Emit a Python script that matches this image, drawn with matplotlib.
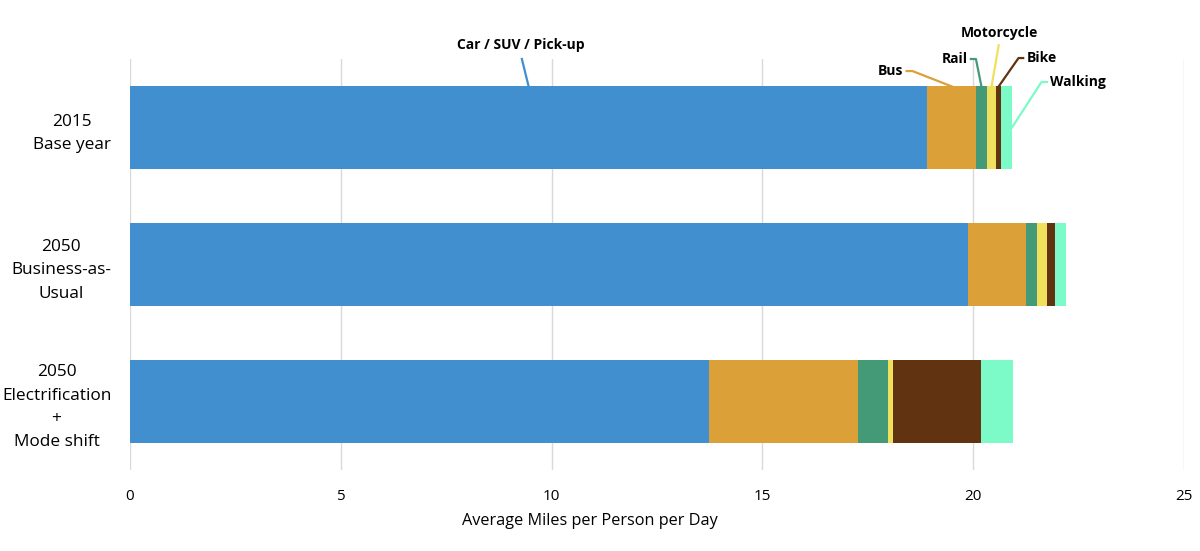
import matplotlib
matplotlib.use("Agg")
import matplotlib.pyplot as plt
import numpy as np

scenarios = ["2015\nBase year", "2050\nBusiness-as-\nUsual", "2050\nElectrification\n+\nMode shift"]
modes = ["Car / SUV / Pick-up", "Bus", "Rail", "Motorcycle", "Bike", "Walking"]
car = [18.91, 19.88, 13.73]
bus = [1.16, 1.38, 3.53]
rail = [0.25, 0.25, 0.71]
motorcycle = [0.23, 0.24, 0.12]
bike = [0.11, 0.20, 2.09]
walking = [0.26, 0.25, 0.77]
colors = ["#418FCE", "#DBA037", "#449A76", "#F0E05E", "#623311", "#7CFAC8"]
xticks = [0, 5, 10, 15, 20, 25]
xlabel = "Average Miles per Person per Day"

series = [car, bus, rail, motorcycle, bike, walking]

plt.rcParams['font.family'] = ['Open Sans', 'DejaVu Sans']
fig = plt.figure(figsize=(12, 5.51), dpi=100)
ax = fig.add_axes([130/1200, 1-470/551, 1054/1200, 411/551])

ypos = np.arange(len(scenarios))
bh = 0.6
left = np.zeros(len(scenarios))
for vals, c in zip(series, colors):
    ax.barh(ypos, vals, left=left, height=bh, color=c, zorder=3)
    left = left + np.array(vals)

ax.set_xlim(0, 25)
ax.set_ylim(2.5, -0.5)
ax.set_xticks(xticks)
ax.set_xticklabels([str(t) for t in xticks], fontsize=11)
ax.set_yticks(ypos)
ax.set_yticklabels(scenarios, fontsize=12.4, ha='right', multialignment='center', linespacing=1.62)
ax.tick_params(axis='y', length=0, pad=13.5)
ax.tick_params(axis='x', length=0, pad=14)
ax.grid(axis='x', color='#D9D9D9', linewidth=1, zorder=0)
for s in ax.spines.values():
    s.set_visible(False)
ax.set_xlabel(xlabel, fontsize=11.7, labelpad=8)
ax.xaxis.set_label_coords((590 - 130) / 1054, -0.105)

# annotations for first bar
b = 0
cum = np.cumsum([s[b] for s in series])
starts = cum - np.array([s[b] for s in series])
mids = (starts + cum) / 2
top = b - bh / 2

lw = 1.6
lab_kw = dict(fontsize=10, fontweight='bold', family=['Open Sans', 'DejaVu Sans'], clip_on=False)

# Car
ax.plot([mids[0], mids[0] - 0.16], [top, -0.5], color=colors[0], lw=lw, clip_on=False, zorder=4)
ax.text(mids[0] - 0.18, -0.60, modes[0], ha='center', va='center', **lab_kw)
# Bus
ax.plot([mids[1], mids[1] - 0.93, mids[1] - 1.07], [top, -0.412, -0.412], color=colors[1], lw=lw, clip_on=False, zorder=4)
ax.text(mids[1] - 1.15, -0.412, modes[1], ha='right', va='center', **lab_kw)
# Rail
ax.plot([mids[2], mids[2] - 0.13, mids[2] - 0.25], [top, -0.5, -0.5], color=colors[2], lw=lw, clip_on=False, zorder=4)
ax.text(mids[2] - 0.33, -0.5, modes[2], ha='right', va='center', **lab_kw)
# Motorcycle
ax.plot([mids[3], mids[3] + 0.17], [top, -0.60], color=colors[3], lw=lw, clip_on=False, zorder=4)
ax.text(mids[3] + 0.18, -0.69, modes[3], ha='center', va='center', **lab_kw)
# Bike
ax.plot([mids[4], mids[4] + 0.47, mids[4] + 0.58], [top, -0.507, -0.507], color=colors[4], lw=lw, clip_on=False, zorder=4)
ax.text(mids[4] + 0.67, -0.507, modes[4], ha='left', va='center', **lab_kw)
# Walking
ax.plot([cum[5], cum[5] + 0.70, cum[5] + 0.83], [b, -0.332, -0.332], color=colors[5], lw=lw, clip_on=False, zorder=4)
ax.text(cum[5] + 0.91, -0.332, modes[5], ha='left', va='center', **lab_kw)

fig.savefig("out.png", dpi=100)
